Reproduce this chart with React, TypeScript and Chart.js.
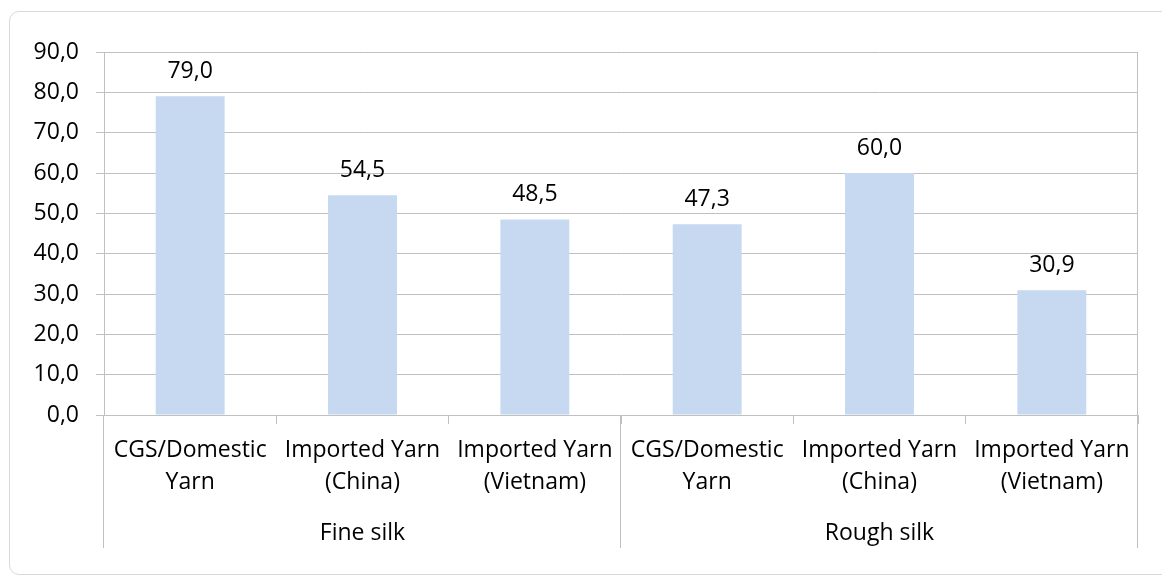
import React, { useEffect, useRef } from "react";
import { Chart, registerables } from "chart.js";

Chart.register(...registerables);

// Chart values
const categories: string[][] = [
  ["CGS/Domestic", "Yarn"],
  ["Imported Yarn", "(China)"],
  ["Imported Yarn", "(Vietnam)"],
  ["CGS/Domestic", "Yarn"],
  ["Imported Yarn", "(China)"],
  ["Imported Yarn", "(Vietnam)"],
];
const values: number[] = [79.0, 54.5, 48.5, 47.3, 60.0, 30.9];
const groupNames: string[] = ["Fine silk", "Rough silk"];
const groupSizes: number[] = [3, 3];
const yTicks: number[] = [0, 10, 20, 30, 40, 50, 60, 70, 80, 90];

const FONT = "'Open Sans', sans-serif";
const FONT_SIZE = 23;
const GRID = "#c0c0c0";
const fmt = (v: number) => v.toFixed(1).replace(".", ",");

// Value labels above bars, plus the second (group) level of the category axis
const decorations = {
  id: "decorations",
  afterDatasetsDraw(chart: any) {
    const ctx = chart.ctx;
    const meta = chart.getDatasetMeta(0);
    ctx.save();
    ctx.font = `${FONT_SIZE}px ${FONT}`;
    ctx.fillStyle = "#000";
    ctx.textAlign = "center";
    ctx.textBaseline = "alphabetic";
    meta.data.forEach((bar: any, i: number) => {
      ctx.fillText(fmt(values[i]), bar.x, bar.y - 18);
    });
    ctx.restore();
  },
  afterDraw(chart: any) {
    const ctx = chart.ctx;
    const x = chart.scales.x;
    const area = chart.chartArea;
    const w = (x.right - x.left) / categories.length;
    const lineBottom = area.bottom + 133;
    ctx.save();
    ctx.strokeStyle = GRID;
    ctx.lineWidth = 1;
    // right edge of the plot
    ctx.beginPath();
    ctx.moveTo(Math.round(x.right) - 0.5, area.top);
    ctx.lineTo(Math.round(x.right) - 0.5, area.bottom);
    ctx.stroke();
    let start = 0;
    const bounds: number[] = [0];
    groupSizes.forEach((n) => {
      start += n;
      bounds.push(start);
    });
    bounds.forEach((b) => {
      const px = Math.round(x.left + b * w) - 0.5;
      ctx.beginPath();
      ctx.moveTo(px, area.bottom);
      ctx.lineTo(px, lineBottom);
      ctx.stroke();
    });
    ctx.font = `${FONT_SIZE}px ${FONT}`;
    ctx.fillStyle = "#000";
    ctx.textAlign = "center";
    ctx.textBaseline = "alphabetic";
    groupNames.forEach((name, g) => {
      const cx = x.left + ((bounds[g] + bounds[g + 1]) / 2) * w;
      ctx.fillText(name, cx, area.bottom + 125);
    });
    ctx.restore();
  },
};

export default function App() {
  const canvasRef = useRef<HTMLCanvasElement | null>(null);

  useEffect(() => {
    document.body.style.margin = "0";
    document.body.style.overflow = "hidden";
    const canvas = canvasRef.current;
    if (!canvas) return;
    const chart = new Chart(canvas, {
      type: "bar",
      data: {
        labels: categories,
        datasets: [
          {
            data: values,
            backgroundColor: "#c6d9f1",
            borderWidth: 0,
            barPercentage: 0.4,
            categoryPercentage: 1,
          },
        ],
      },
      options: {
        animation: false,
        responsive: false,
        devicePixelRatio: 1,
        layout: { padding: { top: 52, right: 24, left: 0, bottom: 0 } },
        plugins: {
          legend: { display: false },
          tooltip: { enabled: false },
          title: { display: false },
        },
        scales: {
          x: {
            grid: {
              display: true,
              drawOnChartArea: false,
              drawTicks: true,
              tickLength: 9,
              color: GRID,
              offset: true,
            },
            border: { display: true, color: GRID },
            ticks: {
              color: "#000",
              font: { family: FONT, size: FONT_SIZE, lineHeight: 32 / FONT_SIZE },
              padding: 10,
              maxRotation: 0,
              autoSkip: false,
            },
            afterFit(scale: any) {
              scale.height = 164;
            },
          },
          y: {
            min: 0,
            max: 90,
            afterBuildTicks(scale: any) {
              scale.ticks = yTicks.map((v) => ({ value: v }));
            },
            grid: { color: GRID, tickLength: 8 },
            border: { display: true, color: GRID },
            ticks: {
              color: "#000",
              font: { family: FONT, size: FONT_SIZE },
              padding: 17,
              callback: (v: any) => fmt(Number(v)),
            },
            afterFit(scale: any) {
              scale.width = 104;
            },
          },
        },
      },
      plugins: [decorations],
    });
    return () => chart.destroy();
  }, []);

  return (
    <div style={{ position: "relative", width: 1162, height: 579, overflow: "hidden" }}>
      <div
        style={{
          position: "absolute",
          left: 9,
          top: 11,
          width: 1170,
          height: 564,
          border: "1px solid #d9d9d9",
          borderRadius: 10,
          boxSizing: "border-box",
        }}
      />
      <canvas ref={canvasRef} width={1162} height={579} style={{ position: "absolute", left: 0, top: 0 }} />
    </div>
  );
}
